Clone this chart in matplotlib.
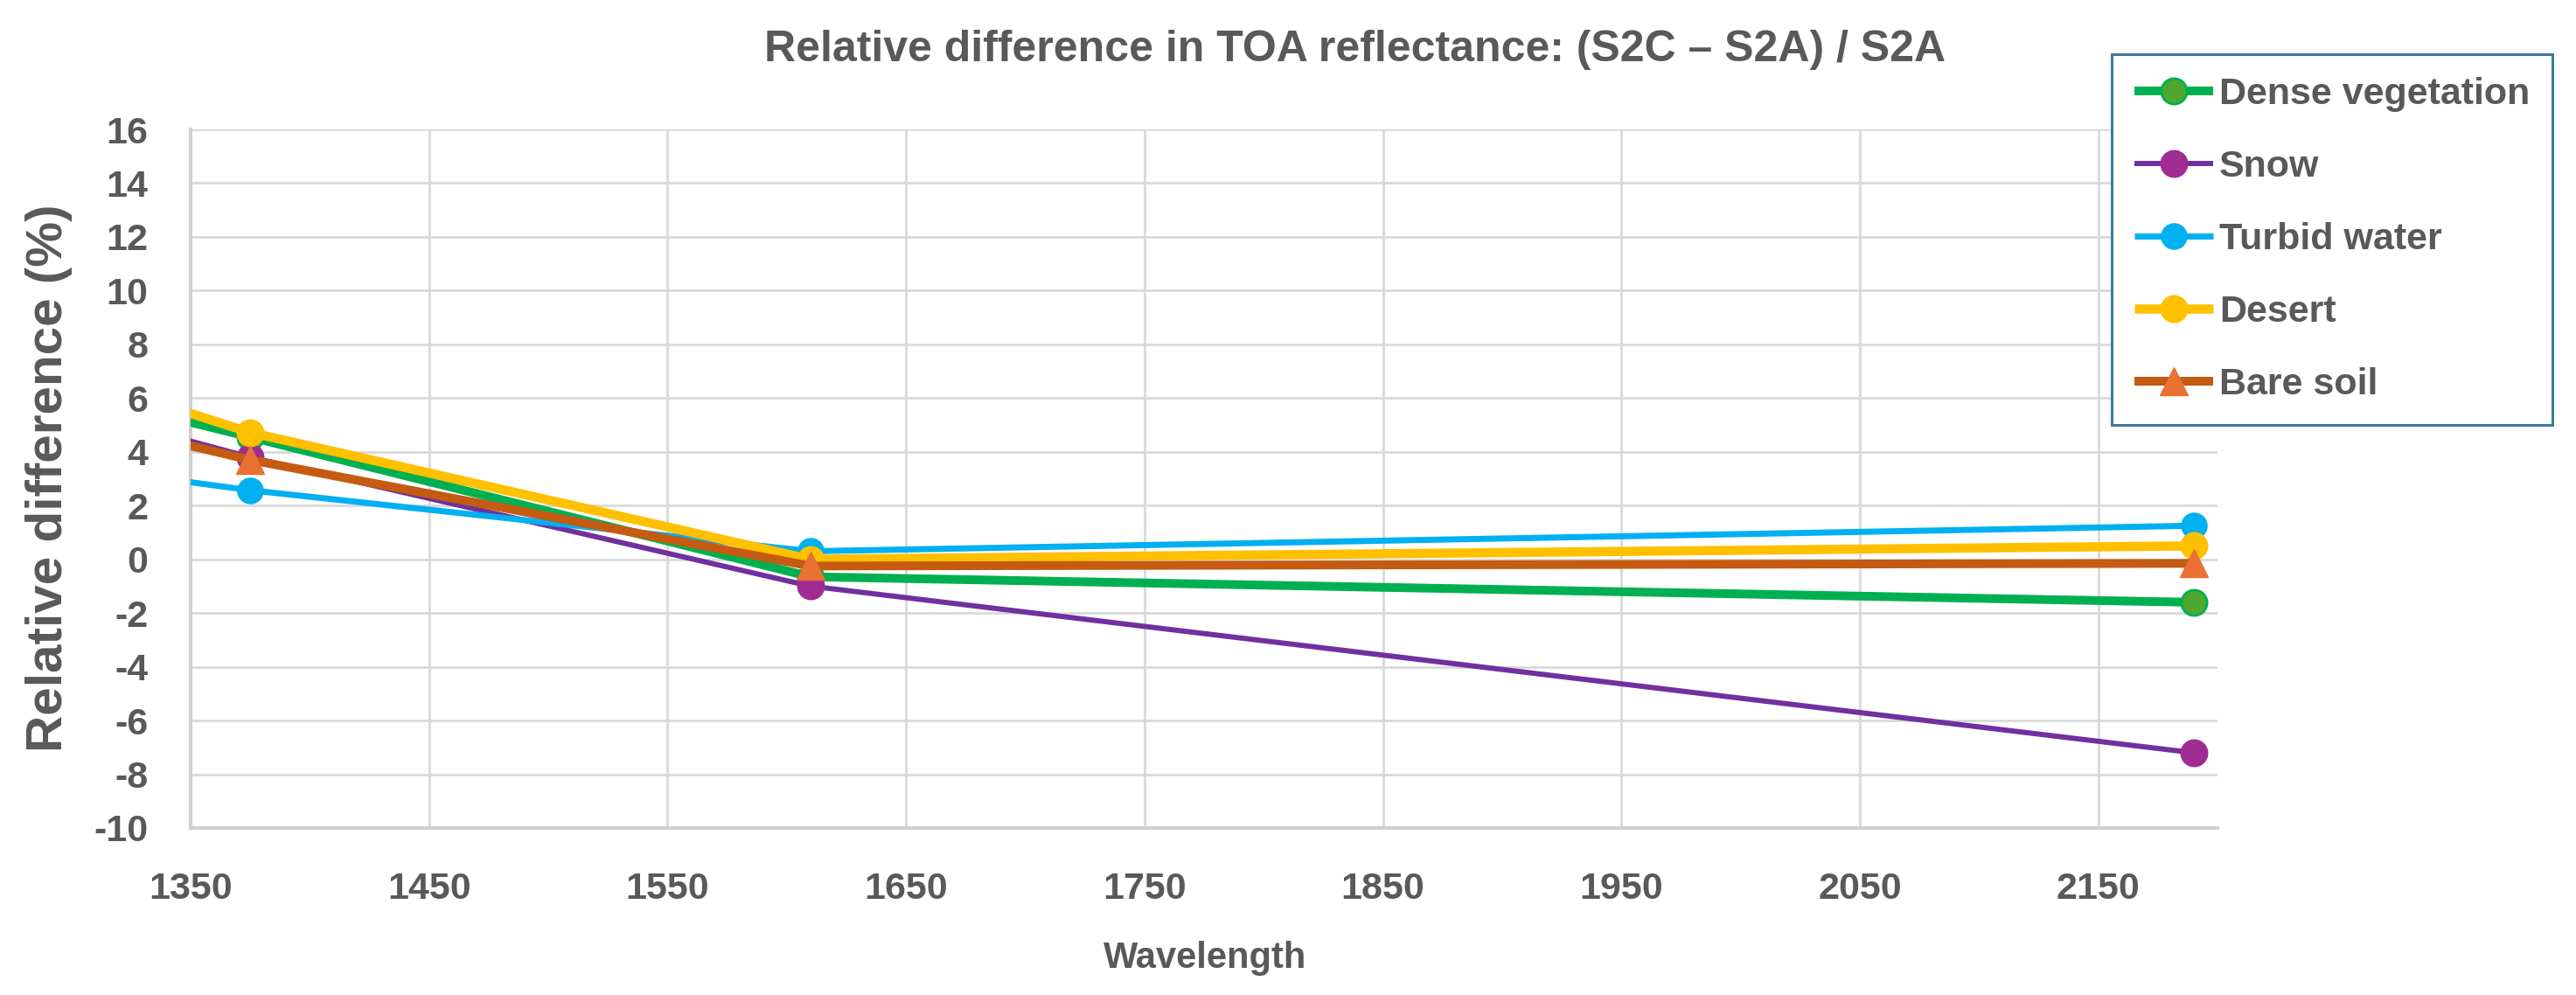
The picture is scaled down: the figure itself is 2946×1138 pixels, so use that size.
import matplotlib
matplotlib.use("Agg")
import matplotlib.pyplot as plt

# band centre wavelengths (nm); the first one lies left of the visible range
wavelength = [945, 1375, 1610, 2190]

dense_vegetation = [14.0, 4.55, -0.65, -1.6]
snow = [14.1, 3.8, -1.0, -7.2]
turbid_water = [7.7, 2.57, 0.3, 1.25]
desert = [16.9, 4.72, 0.0, 0.5]
bare_soil = [12.7, 3.7, -0.25, -0.15]

series_names = ["Dense vegetation", "Snow", "Turbid water", "Desert", "Bare soil"]

x_ticks = [1350, 1450, 1550, 1650, 1750, 1850, 1950, 2050, 2150]
y_ticks = list(range(-10, 17, 2))

text_grey = "#595959"
plt.rcParams["font.family"] = ["Liberation Sans", "DejaVu Sans"]
plt.rcParams["font.weight"] = "bold"
plt.rcParams["axes.unicode_minus"] = False

W, H = 2946, 1138
fig = plt.figure(figsize=(W / 100, H / 100), dpi=100)
ax = fig.add_axes([218 / W, 1 - 947 / H, (2536 - 218) / W, (947 - 148) / H])

styles = [
    dict(color="#00B050", lw=7.2, marker="o", ms=21, mfc="#4EA72E", mec="#00B050", mew=2),
    dict(color="#7030A0", lw=4.3, marker="o", ms=22, mfc="#A02B93", mec="#A02B93", mew=1),
    dict(color="#00B0F0", lw=5.0, marker="o", ms=21, mfc="#00B0F0", mec="#00B0F0", mew=1),
    dict(color="#FFC000", lw=7.6, marker="o", ms=22, mfc="#FFC000", mec="#FFC000", mew=1),
    dict(color="#C55A11", lw=7.2, marker="^", ms=23, mfc="#E97132", mec="#E97132", mew=1),
]
all_series = [dense_vegetation, snow, turbid_water, desert, bare_soil]

for name, vals, st in zip(series_names, all_series, styles):
    ax.plot(wavelength, vals, label=name, solid_capstyle="butt", zorder=3, **st)

ax.set_xlim(1350, 2200)
ax.set_ylim(-10, 16)
ax.set_xticks(x_ticks)
ax.set_yticks(y_ticks)
ax.grid(True, color="#D9D9D9", lw=2)
ax.set_axisbelow(True)
ax.tick_params(length=0, labelsize=31, labelcolor=text_grey)
ax.tick_params(axis="x", pad=36)
ax.tick_params(axis="y", pad=35)
for lab in ax.get_xticklabels() + ax.get_yticklabels():
    lab.set_fontweight("bold")

for side in ["top", "right"]:
    ax.spines[side].set_visible(False)
for side in ["left", "bottom"]:
    ax.spines[side].set_color("#D0D0D0")
    ax.spines[side].set_linewidth(3)

fig.text(1550 / W, 1 - 70 / H, "Relative difference in TOA reflectance: (S2C \u2013 S2A) / S2A",
         ha="center", va="baseline", fontsize=36, fontweight="bold", color=text_grey)
fig.text(56 / W, 1 - 547 / H, "Relative difference (%)", rotation=90,
         ha="center", va="center", fontsize=42, fontweight="bold", color=text_grey)
fig.text(1378 / W, 1 - 1107 / H, "Wavelength", ha="center", va="baseline",
         fontsize=30, fontweight="bold", color=text_grey)

leg = ax.legend(loc="upper left", bbox_to_anchor=(2415 / W, 1 - 62 / H),
                bbox_transform=fig.transFigure, borderaxespad=0,
                fontsize=31, handlelength=2.1, handletextpad=0.15,
                labelspacing=1.0, borderpad=0.6, fancybox=False,
                framealpha=1, edgecolor="#3C7A9E")
leg.get_frame().set_linewidth(2.2)
for t in leg.get_texts():
    t.set_color(text_grey)
    t.set_fontweight("bold")

fig.savefig("out.png", dpi=100)
